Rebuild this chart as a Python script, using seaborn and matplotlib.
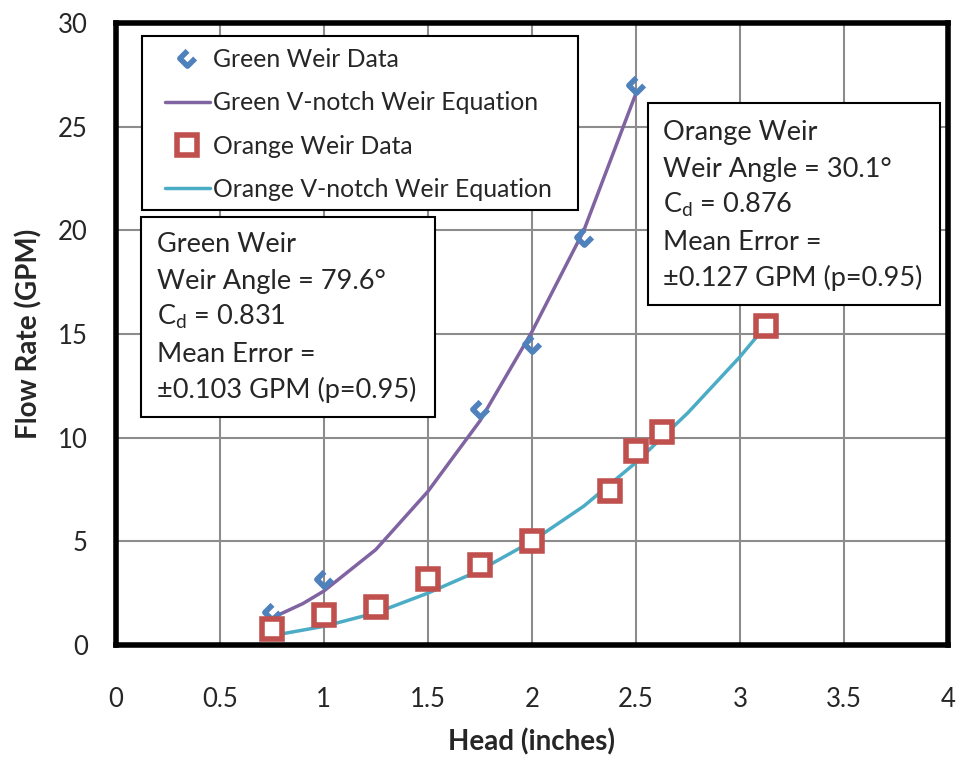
import numpy as np
import pandas as pd
import matplotlib
matplotlib.use("Agg")
import matplotlib.pyplot as plt
import seaborn as sns
from matplotlib.path import Path
from matplotlib.patches import Rectangle

# ---- data ----
green_head = [0.75, 1.0, 1.75, 2.0, 2.25, 2.5]
green_flow = [1.6, 3.2, 11.4, 14.5, 19.7, 27.0]
green_eq_head = [0.75, 0.9, 1.0, 1.25, 1.5, 1.75, 2.0, 2.25, 2.5]
green_eq_flow = [1.3, 2.0, 2.6, 4.6, 7.4, 10.8, 15.1, 20.0, 26.6]

orange_head = [0.75, 1.0, 1.25, 1.5, 1.75, 2.0, 2.375, 2.5, 2.625, 3.125]
orange_flow = [0.75, 1.45, 1.85, 3.2, 3.85, 5.0, 7.45, 9.35, 10.25, 15.4]
orange_eq_head = [0.75, 1.0, 1.25, 1.5, 1.75, 2.0, 2.25, 2.5, 2.75, 3.0, 3.125]
orange_eq_flow = [0.45, 0.9, 1.55, 2.5, 3.6, 5.0, 6.7, 8.8, 11.2, 13.9, 15.4]

x_ticks = [0, 0.5, 1, 1.5, 2, 2.5, 3, 3.5, 4]
x_ticklabels = ["0", "0.5", "1", "1.5", "2", "2.5", "3", "3.5", "4"]
y_ticks = [0, 5, 10, 15, 20, 25, 30]

green_box = ["Green Weir", "Weir Angle = 79.6°", "C$_\\mathregular{d}$ = 0.831",
             "Mean Error =", "±0.103 GPM (p=0.95)"]
orange_box = ["Orange Weir", "Weir Angle = 30.1°", "C$_\\mathregular{d}$ = 0.876",
              "Mean Error =", "±0.127 GPM (p=0.95)"]

# ---- style ----
sns.set_theme(style="white")
plt.rcParams['font.family'] = ['Lato', 'DejaVu Sans']
plt.rcParams['mathtext.default'] = 'regular'

BLUE = "#4F81BD"
RED = "#C0504D"
PURPLE = "#8064A2"
CYAN = "#4BACC6"

fig = plt.figure(figsize=(9.56, 7.59), dpi=100)
W, H = 956, 759
L, R, T, B = 115.7, 948, 23, 645
ax = fig.add_axes([L / W, 1 - B / H, (R - L) / W, (B - T) / H])

# open diamond marker (missing upper-right edge)
mpath = Path([(0, 1), (-1, 0), (0, -1), (1, 0)],
             [Path.MOVETO, Path.LINETO, Path.LINETO, Path.LINETO])

df_g = pd.DataFrame({"h": green_head, "q": green_flow})
df_ge = pd.DataFrame({"h": green_eq_head, "q": green_eq_flow})
df_o = pd.DataFrame({"h": orange_head, "q": orange_flow})
df_oe = pd.DataFrame({"h": orange_eq_head, "q": orange_eq_flow})

sns.lineplot(data=df_ge, x="h", y="q", ax=ax, color=PURPLE, lw=2.5,
             label="Green V-notch Weir Equation", sort=False, zorder=3)
sns.lineplot(data=df_oe, x="h", y="q", ax=ax, color=CYAN, lw=2.5,
             label="Orange V-notch Weir Equation", sort=False, zorder=3)
sns.lineplot(data=df_g, x="h", y="q", ax=ax, linestyle="none", marker=mpath,
             markersize=11, markerfacecolor="none", markeredgecolor=BLUE,
             markeredgewidth=4, color=BLUE, label="Green Weir Data",
             sort=False, zorder=4)
sns.lineplot(data=df_o, x="h", y="q", ax=ax, linestyle="none", marker="s",
             markersize=15, markerfacecolor="white", markeredgecolor=RED,
             markeredgewidth=4, color=RED, label="Orange Weir Data",
             sort=False, zorder=5)

ax.set_xlim(0, 4)
ax.set_ylim(0, 30)
ax.set_xticks(x_ticks)
ax.set_xticklabels(x_ticklabels)
ax.set_yticks(y_ticks)
ax.grid(True, color="#8c8c8c", lw=1.5)
ax.set_axisbelow(True)
for s in ax.spines.values():
    s.set_color("black")
    s.set_linewidth(4)
ax.tick_params(axis="both", direction="in", length=6, width=3, color="black",
               labelsize=18.5)
ax.tick_params(axis="x", pad=30)
ax.tick_params(axis="y", pad=20)
ax.set_xlabel("Head (inches)", fontsize=20, fontweight="bold", labelpad=12)
ax.set_ylabel("Flow Rate (GPM)", fontsize=20, fontweight="bold", labelpad=11)

def fx(px):
    return (px - L) / (R - L)
def fy(py):
    return (B - py) / (B - T)

# legend (frame drawn separately)
handles, labels = ax.get_legend_handles_labels()
order = ["Green Weir Data", "Green V-notch Weir Equation",
         "Orange Weir Data", "Orange V-notch Weir Equation"]
hmap = dict(zip(labels, handles))
ax.add_patch(Rectangle((fx(142), fy(210)), fx(578) - fx(142), fy(36) - fy(210),
                       transform=ax.transAxes, facecolor="white",
                       edgecolor="black", lw=1.5, zorder=9))
leg = ax.legend([hmap[k] for k in order], order, loc="upper left",
                bbox_to_anchor=(fx(165), fy(48)),
                fontsize=17.8, frameon=False, handlelength=1.8,
                handletextpad=0.15, labelspacing=0.82, borderpad=0,
                borderaxespad=0)
leg.set_zorder(10)

# text boxes
def text_box(x0, y0, x1, y1, tx, first_base, lines):
    ax.add_patch(Rectangle((fx(x0), fy(y1)), fx(x1) - fx(x0), fy(y0) - fy(y1),
                           transform=ax.transAxes, facecolor="white",
                           edgecolor="black", lw=1.5, zorder=10))
    for i, ln in enumerate(lines):
        ax.text(fx(tx), fy(first_base + i * 36.5), ln, transform=ax.transAxes,
                fontsize=19.5, va="baseline", ha="left", zorder=11)

text_box(141, 217, 435, 417, 157, 252, green_box)
text_box(648, 103, 940, 305, 663, 140, orange_box)

fig.savefig("out.png", dpi=100)
